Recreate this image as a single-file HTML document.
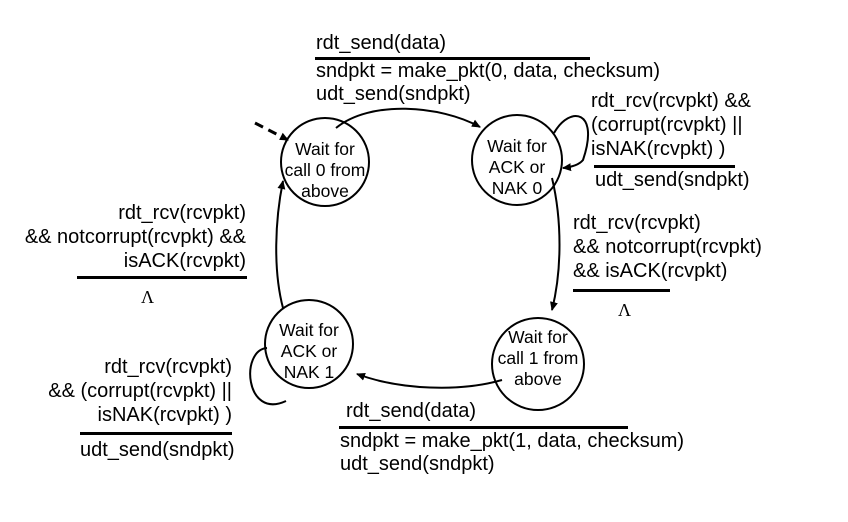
<!DOCTYPE html>
<html><head><meta charset="utf-8"><style>
html,body{margin:0;padding:0;background:#fff;}
svg{display:block;}
text{font-family:"Liberation Sans",Arial,sans-serif;fill:#000;}
.t{font-size:20px;}
.s{font-size:17.5px;text-anchor:middle;}
</style></head><body>
<svg width="848" height="522" viewBox="0 0 848 522" xmlns="http://www.w3.org/2000/svg">
<defs><marker id="a" markerWidth="10" markerHeight="10" refX="8" refY="5" orient="auto" markerUnits="userSpaceOnUse"><path d="M0,1 L9,5 L0,9 Z" fill="#000"/></marker></defs>
<g fill="none" stroke="#000" stroke-width="2">
<circle cx="325" cy="162" r="44"/>
<circle cx="517" cy="160" r="45"/>
<circle cx="538" cy="364" r="46"/>
<circle cx="309" cy="344" r="44"/>
<line x1="255" y1="123" x2="288" y2="140" stroke-width="3" stroke-dasharray="9,6" marker-end="url(#a)"/>
<path d="M336,128 C370,100 440,105 480,127" marker-end="url(#a)"/>
<path d="M552,178 C562,220 562,270 552,310" marker-end="url(#a)"/>
<path d="M502,380 C460,392 400,390 357,374" marker-end="url(#a)"/>
<path d="M283,308 C273,270 275,220 283,181" marker-end="url(#a)"/>
<path d="M554,133 C570,105 600,110 583,160 C579,165 572,167 563,168" marker-end="url(#a)"/>
<path d="M267,348 C240,350 245,420 286,401"/>
</g>
<g fill="#000">
<rect x="315" y="57" width="275" height="3"/>
<rect x="594" y="165" width="141" height="3"/>
<rect x="573" y="289" width="97" height="3"/>
<rect x="77" y="276" width="170" height="3"/>
<rect x="80" y="432" width="152" height="3"/>
<rect x="339" y="426" width="289" height="3"/>
</g>
<text class="s" x="325" y="155">Wait for</text>
<text class="s" x="325" y="176">call 0 from</text>
<text class="s" x="325" y="197">above</text>
<text class="s" x="517" y="152">Wait for</text>
<text class="s" x="517" y="173">ACK or</text>
<text class="s" x="517" y="194">NAK 0</text>
<text class="s" x="538" y="343">Wait for</text>
<text class="s" x="538" y="364">call 1 from</text>
<text class="s" x="538" y="385">above</text>
<text class="s" x="309" y="336">Wait for</text>
<text class="s" x="309" y="357">ACK or</text>
<text class="s" x="309" y="378">NAK 1</text>
<text class="t" x="316" y="49">rdt_send(data)</text>
<text class="t" x="316" y="77">sndpkt = make_pkt(0, data, checksum)</text>
<text class="t" x="316" y="100">udt_send(sndpkt)</text>
<text class="t" x="591" y="107">rdt_rcv(rcvpkt) &amp;&amp;</text>
<text class="t" x="591" y="131">(corrupt(rcvpkt) ||</text>
<text class="t" x="591" y="155">isNAK(rcvpkt) )</text>
<text class="t" x="595" y="186">udt_send(sndpkt)</text>
<text class="t" x="573" y="229">rdt_rcv(rcvpkt)</text>
<text class="t" x="573" y="253">&amp;&amp; notcorrupt(rcvpkt)</text>
<text class="t" x="573" y="277">&amp;&amp; isACK(rcvpkt)</text>
<text x="618" y="316" style="font-family:'Liberation Serif',serif;font-size:18px">Λ</text>
<g style="text-anchor:end">
<text class="t" x="246" y="219">rdt_rcv(rcvpkt)</text>
<text class="t" x="246" y="243">&amp;&amp; notcorrupt(rcvpkt) &amp;&amp;</text>
<text class="t" x="246" y="267">isACK(rcvpkt)</text>
<text class="t" x="232" y="373">rdt_rcv(rcvpkt)</text>
<text class="t" x="232" y="397">&amp;&amp; (corrupt(rcvpkt) ||</text>
<text class="t" x="232" y="421">isNAK(rcvpkt) )</text>
</g>
<text x="141" y="303" style="font-family:'Liberation Serif',serif;font-size:18px">Λ</text>
<text class="t" x="80" y="456">udt_send(sndpkt)</text>
<text class="t" x="346" y="417">rdt_send(data)</text>
<text class="t" x="340" y="447">sndpkt = make_pkt(1, data, checksum)</text>
<text class="t" x="340" y="470">udt_send(sndpkt)</text>
</svg>
</body></html>
